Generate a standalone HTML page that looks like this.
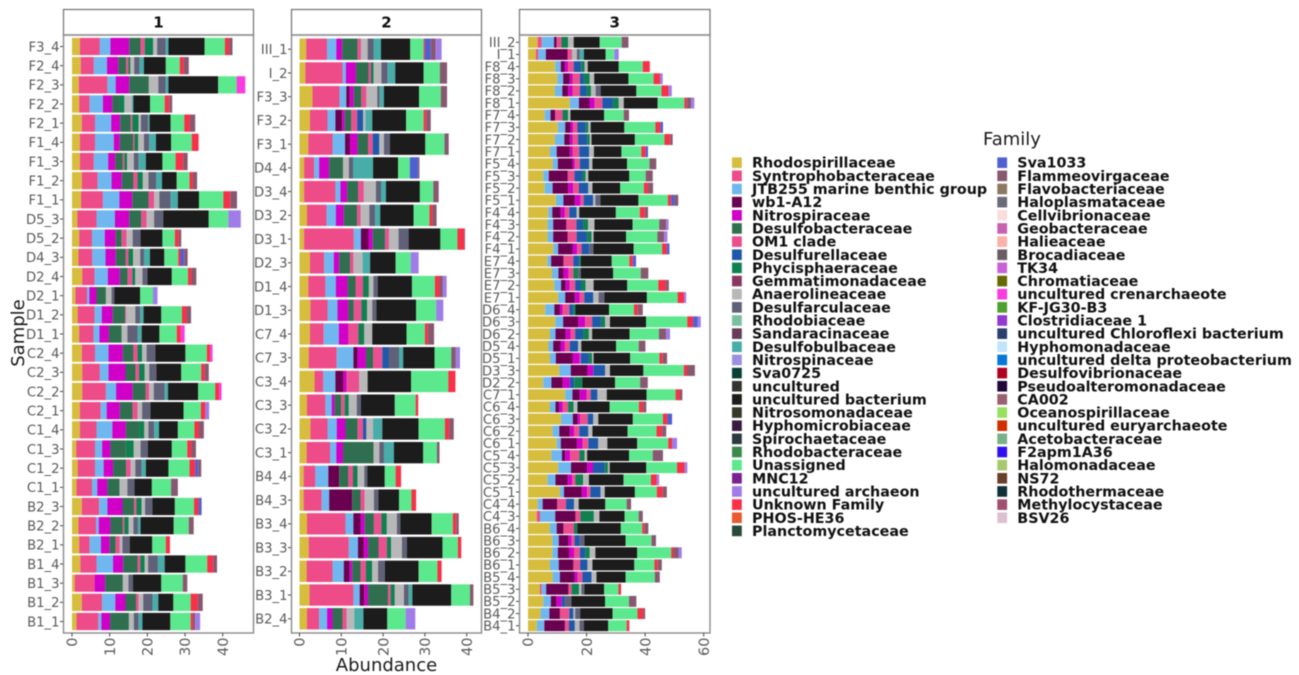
<!DOCTYPE html>
<html lang="en">
<head>
<meta charset="utf-8">
<title>Family abundance by sample</title>
<style>
html,body{margin:0;padding:0;background:#fff;width:1299px;height:675px;overflow:hidden}
svg{display:block;filter:blur(.65px)}
text{font-family:"DejaVu Sans","Liberation Sans",sans-serif}
</style>
</head>
<body>
<svg id="chart" xmlns="http://www.w3.org/2000/svg" width="1299" height="675" viewBox="0 0 1299 675">
  <rect x="0" y="0" width="1299" height="675" fill="#fff"/>
  <g id="panels"></g>
  <text x="386.5" y="671" font-size="18" text-anchor="middle" fill="#1a1a1a">Abundance</text>
  <text transform="translate(24,333) rotate(-90)" font-size="18" text-anchor="middle" fill="#1a1a1a">Sample</text>
  <text x="983" y="145" font-size="18" fill="#1a1a1a">Family</text>
  <g id="legend"></g>
</svg>
<script>
const legendFamilies = ["Rhodospirillaceae","Syntrophobacteraceae","JTB255 marine benthic group","wb1-A12","Nitrospiraceae","Desulfobacteraceae","OM1 clade","Desulfurellaceae","Phycisphaeraceae","Gemmatimonadaceae","Anaerolineaceae","Desulfarculaceae","Rhodobiaceae","Sandaracinaceae","Desulfobulbaceae","Nitrospinaceae","Sva0725","uncultured","uncultured bacterium","Nitrosomonadaceae","Hyphomicrobiaceae","Spirochaetaceae","Rhodobacteraceae","Unassigned","MNC12","uncultured archaeon","Unknown Family","PHOS-HE36","Planctomycetaceae","Sva1033","Flammeovirgaceae","Flavobacteriaceae","Haloplasmataceae","Cellvibrionaceae","Geobacteraceae","Halieaceae","Brocadiaceae","TK34","Chromatiaceae","uncultured crenarchaeote","KF-JG30-B3","Clostridiaceae 1","uncultured Chloroflexi bacterium","Hyphomonadaceae","uncultured delta proteobacterium","Desulfovibrionaceae","Pseudoalteromonadaceae","CA002","Oceanospirillaceae","uncultured euryarchaeote","Acetobacteraceae","F2apm1A36","Halomonadaceae","NS72","Rhodothermaceae","Methylocystaceae","BSV26"];
const legendColors = ["#d6bd3e","#ee4c88","#6fb7ee","#6a0050","#d000c8","#2f6f4f","#ea4f90","#1f58a8","#118050","#8a3860","#b8b8b8","#606078","#78c0a0","#663c58","#48aca8","#9c90e0","#0a4038","#33332f","#1c1c1c","#363a28","#3a1a40","#2a3a40","#3a8a4a","#5ce88c","#7a2090","#a07ce8","#f83048","#e85a30","#284a38","#4f60d0","#885870","#8c7860","#6a6a78","#fadcdc","#c860b0","#fcb0a8","#6c5c64","#c860d8","#686800","#f83ce0","#50a030","#9038d0","#2c4070","#c0e4fc","#0878d8","#b00020","#200838","#986070","#98e060","#d03000","#78b088","#3010f0","#a8c870","#684028","#103038","#a05070","#dcc0d0"];
const stackFamilies = ["Rhodospirillaceae","Syntrophobacteraceae","JTB255 marine benthic group","wb1-A12","Nitrospiraceae","Desulfobacteraceae","OM1 clade","Desulfurellaceae","Phycisphaeraceae","Anaerolineaceae","Desulfarculaceae","Desulfobulbaceae","uncultured bacterium","Unassigned","Unknown Family","Sva1033","Flammeovirgaceae","uncultured archaeon","uncultured crenarchaeote"];

const facetNames = ["1","2","3"];
const panel1Ticks = [0,10,20,30,40];
const panel2Ticks = [0,10,20,30,40];
const panel3Ticks = [0,20,40,60];

const panel1Samples = ["F3_4","F2_4","F2_3","F2_2","F2_1","F1_4","F1_3","F1_2","F1_1","D5_3","D5_2","D4_3","D2_4","D2_1","D1_2","D1_1","C2_4","C2_3","C2_2","C2_1","C1_4","C1_3","C1_2","C1_1","B2_3","B2_2","B2_1","B1_4","B1_3","B1_2","B1_1"];
const panel1Values = [
[2.1,5.3,2.8,0,5,3,1.1,0,2.2,1.1,2.3,.7,9.6,5.4,1.1,0,.9],
[2.3,3.5,3.5,0,3,2.1,.6,0,.5,1,1.4,1.2,5.8,3.7,1.1,0,1.3],
[1.8,7.6,2.2,0,3.6,5.2,0,0,0,2.5,2,.7,13.2,4.9,0,0,0,0,2.3],
[1.9,2.8,3.5,0,2.5,1.9,0,0,1.3,2,0,.4,4.4,3.9,1.2,0,.8],
[2.6,3.5,4.3,0,2.4,2.8,.4,0,1.7,.6,1.9,.4,5.6,3.6,1.5,0,1.4],
[2.1,4,5,0,1.6,3.5,.4,0,1,1.5,1.4,1.8,4,5.5,1.8],
[2.1,3.7,3.8,0,1.9,2,.4,0,.7,1.8,1.3,1.9,4.4,3.5,2,0,1.2],
[2.6,4.2,3.7,0,2.7,3.1,1.1,0,1.4,1.5,2,1.6,3.9,3.4,.9,0,1.1],
[2.4,5.8,4.4,0,3.4,4.3,1.5,0,0,1.4,3,1.9,5.6,6.5,1.8,0,1.8],
[1.4,5.1,4.9,0,3.8,3.2,1.4,0,0,2,2.4,0,12.1,5.2,0,0,0,3.3],
[1.9,3.4,3.4,0,2.9,1.6,1.3,0,0,1.6,2.1,0,5.8,3.3,1,0,.7],
[1.7,3.7,3.5,0,2.7,2.7,.7,0,1.2,1.9,1,1.6,3.8,3.7,.6,1,.9],
[2.7,3.3,3.5,0,3.2,2.1,1.2,0,.8,1.9,1.3,0,6.5,4.3,.9,0,1.3],
[.9,3.1,.6,0,1.9,2.5,0,0,0,1.5,.7,0,6.9,3.4,0,0,0,1.2],
[1.5,4.5,1.9,0,2.9,3.3,.3,0,0,2.4,1.3,.9,4.7,5.5,1.2,0,1.2],
[1.9,3.8,1.6,0,2.5,3.4,0,0,0,1.5,2.7,1.1,4.7,4.6,1.1,0,0,0,1],
[2.6,3.5,3.6,0,3.8,2.8,1.1,0,1.2,1.2,2.3,0,8,5.7,.9,0,0,0,.6],
[2.7,4.7,2.3,0,4.5,2.7,.9,0,1.5,1.2,1.9,0,6.6,5.3,.9,0,1.1],
[2.7,6.3,2.7,0,4.4,3.5,.9,0,0,1.2,2.9,.9,8,4.5,1.1,0,0,0,.6],
[2.1,5.5,1.6,0,3.5,3.4,1.3,0,0,1.2,2.2,0,8.8,4.6,1.2,0,0,1],
[2.1,4.4,4.2,0,3.6,3.5,0,0,1.4,1.1,1.5,1.3,5,4.4,1.2,0,1.3],
[1.1,5,1.9,0,2.2,4.1,0,0,2.1,1.8,1.9,0,6.4,4.1,1.1,0,1.2],
[1.5,4.6,2.3,0,2.5,3.5,1.2,0,0,1.2,1.7,1.1,6,5.6,1.5,.8,.8],
[1.2,4.1,1.4,0,2.7,3.2,0,0,0,2.1,1.9,0,4.6,5.1,0,0,1.8],
[2.6,4.6,2.2,0,4,3.1,.6,0,1.4,.9,1.9,0,6,5.1,1.2,.8],
[1.7,4.7,.7,0,3.1,3.3,.4,0,1.1,1.3,1.2,.7,8.8,4,0,0,1.3],
[1.9,2.8,3,0,2.3,1.6,1.1,0,0,.7,1.9,0,6,3.6,1.1],
[2.2,4.3,4.4,0,2.7,3.8,.7,0,1.2,.9,2.6,1.8,5.5,5.8,1.6,0,1],
[.7,5.3,0,0,2.8,4.7,0,0,0,1.5,1.2,0,7.5,5.7,0,0,1.2],
[2.6,5.4,3.5,0,2.7,2.8,.7,0,0,1.2,2.5,1.5,4,4.6,1.9,0,1.3],
[1.2,5.8,.8,0,2.3,5,0,0,0,1.3,1.3,1,7.4,5.4,.6,0,.6,1.3]
];

const panel2Samples = ["III_1","I_2","F3_3","F3_2","F3_1","D4_4","D3_4","D3_2","D3_1","D2_3","D1_4","D1_3","C7_4","C7_3","C3_4","C3_3","C3_2","C3_1","B4_4","B4_3","B3_4","B3_3","B3_2","B3_1","B2_4"];
const panel2Values = [
[1.6,5,2.2,0,1.4,3.7,.8,0,0,1.6,1.4,1.8,7,3.2,.3,1.4,1.2,1.4],
[1.4,8.9,.8,0,2.4,3,.6,0,.6,1.9,1.5,1.8,6.8,3.9,0,0,1.7],
[3.1,6.5,1.6,.8,1,1.8,1.2,0,0,2.6,.6,1,8.4,5.2,0,0,1.5],
[2.5,4.2,1.9,1.6,.6,1.6,1.4,1.4,0,.6,0,1.6,8.1,4.2,.6,0,1.1],
[2.1,5.8,3,1.2,1.8,2.5,1.1,1.6,0,1.1,1.4,0,8.5,4.6,0,0,1],
[1.1,2.4,1.2,0,2.4,3.3,0,0,0,1.4,1,4.8,6,2.8,0,2,.3],
[1.1,7.5,1.2,0,1.6,2.6,1.4,0,0,2.9,1.2,1.2,8.1,3.2,0,0,1.3],
[1.8,4.7,2.2,0,1.9,3.2,.8,0,0,2.1,1.4,1.2,8,3.8,.7,0,1],
[1.1,11.9,1.7,1.8,1,3,.9,0,0,2.3,2.4,0,7.6,4.1,1.6,0,.2],
[2.5,3.4,2.3,0,1.3,2.6,.8,0,0,2.2,0,1.8,6.1,3.6,0,0,0,1.9],
[2.1,4.1,2.5,0,2.8,1.9,1.8,0,1.4,1.1,1,0,8.2,5.5,1.1,0,.8,.9],
[2.6,4.1,2.4,0,2.6,1.3,1.8,0,1.4,1.2,1,0,9.5,4.8,0,0,0,1.7],
[2.5,3.3,3.6,0,2.3,0,2.4,0,1.4,1.9,0,0,8.2,4.4,.7,0,1.5],
[2.2,6.7,4,1,2,1.7,2.2,1.6,0,0,2.4,1,7.5,4,0,0,1.1,1],
[3.6,2.1,2.9,1.9,.8,0,3,0,0,2,0,0,10.4,8.9,1.7],
[1.8,4.4,1.5,0,.7,1.6,.8,0,1,1.9,1,0,8.1,5,.6],
[2.6,4.1,2.2,0,2.1,2.9,1.3,.8,0,1.6,0,2.2,8.7,6.3,1,0,1.1],
[1.7,5.6,1.5,0,1.6,7.3,0,0,0,1.4,1.1,2.4,7,3.3,0,0,.6],
[1,2.8,3.1,2.6,0,2.2,1.1,0,1.1,1.6,.7,0,4.2,2.6,1.3],
[1,4.3,1.8,5.5,0,2,1,0,0,2.2,1.1,0,4.9,3,1.1],
[1.8,9.2,1.9,1.7,1,2.2,1.8,0,1.3,2.4,.8,0,7.5,5.1,.8,0,.6],
[2.2,9.6,2.2,1.4,1,2.5,2,0,1,2.6,1.2,0,8.5,3.7,.8],
[1.7,6.2,2.7,1.4,.6,2,1.3,0,1.5,1.4,1.6,0,8.1,4.5,1],
[2.4,10.5,1.5,1.1,.9,4.8,.6,0,1,2.2,1.1,.9,9.3,4.5,0,0,.8],
[1.8,2.9,1.9,0,1.3,2.4,1,0,0,1.8,0,2.2,5.7,4.4,0,0,0,2.3]
];

const panel3Samples = ["III_2","I_1","F8_4","F8_3","F8_2","F8_1","F7_4","F7_3","F7_2","F7_1","F5_4","F5_3","F5_2","F5_1","F4_4","F4_3","F4_2","F4_1","E7_4","E7_3","E7_2","E7_1","D6_4","D6_3","D6_2","D5_4","D5_1","D3_3","D2_2","C7_1","C6_4","C6_3","C6_2","C6_1","C5_4","C5_3","C5_2","C5_1","C4_4","C4_3","B6_4","B6_3","B6_2","B6_1","B5_4","B5_3","B5_2","B4_2","B4_1"];
const panel3Values = [
[3.3,1.4,4.2,.9,0,0,1.6,0,2.3,1.9,0,0,8.9,7.5,0,0,2.3],
[2.7,.8,2.6,7.4,0,0,1.6,0,0,1.6,1,1.4,7.4,3,0,0,0,1.5],
[9.3,0,1.9,1.4,1.1,0,1.9,2.6,1.1,1.1,0,0,10.6,8.2,2.4],
[10,0,2,2.3,.9,0,2.5,1.4,2,1.5,0,0,11.7,8.6,2.2,0,0,.9],
[9.2,0,2.5,2,1.5,0,2.5,2.3,1.5,1.6,1.7,0,12.2,8.6,2.4,0,0,1.1],
[14.3,0,3.1,3.6,1.8,0,2.6,3.6,2,1.7,0,0,11.6,9.1,.8,0,1.5,1.1],
[5.7,0,2,1.6,0,0,2.5,0,1.9,.8,0,0,11.5,6.7,0,0,1.8],
[10.2,0,2.5,1.8,.9,0,1.5,2.8,.9,.8,0,0,11.5,10.6,1.7,.9],
[9.2,0,3.2,1.9,.9,0,1.9,3.1,.9,.6,0,0,14.8,10.1,2,0,.8],
[7.5,0,2.3,4.5,.9,0,2.3,3.4,0,1.6,0,0,9.4,6.8,1.5,.8],
[8.4,0,1.8,5,.8,0,1.7,3.2,0,1.1,0,0,11.8,7.7,0,0,2.3],
[5.2,0,1.9,6.5,0,0,2.3,2.7,1.1,.9,0,0,14,5.6,0,0,2.4],
[5.7,0,2.7,5.3,1.7,0,2,3.2,0,1.4,0,0,9.5,8.1,1.4,0,1.7],
[9.5,0,2.6,3.9,1.9,0,1.1,3.2,0,.8,1.7,0,13,10.1,1.1,1.1,1.3],
[6.9,0,1.4,2.9,1.4,0,1.5,2.5,0,.9,0,0,12.5,8.2,1.7,0,1.1],
[6.7,0,1.9,4.5,0,0,3.4,2.3,1.7,2.2,0,0,13,9.1,0,0,2.4,.8],
[6.7,0,1.9,4.9,0,0,3.1,3.6,1.5,.7,0,0,11.1,10.7,0,0,2.3,1.1],
[8.6,0,1.7,4.9,1.6,0,1.5,2.6,0,0,1.4,0,13.8,9.7,1.6,.9],
[6.6,0,1.3,4.2,0,0,3.4,2,.6,0,0,0,10.5,6,1.2,1.1],
[8.2,0,2.2,1.7,1.7,0,1.7,0,1.7,0,.9,0,11,9.4,0,0,2.6],
[9,0,2.3,1.6,1.3,0,1.9,2,1.6,2.7,0,0,11.5,10.6,2.5,0,1.1],
[10.3,0,2.4,3.3,1.7,0,1.5,3.1,0,1.8,2,0,14.5,10.5,2.2,0,0,.7],
[5.9,0,3.1,1.9,.9,0,2.3,1.4,.7,0,0,0,11.5,8.5,1.3,0,1.7],
[9.3,0,2.7,5.2,2.3,0,2.4,3,1.4,1.7,0,0,12.3,14.1,2,1.5,0,1.1],
[7.5,0,1.9,3.5,1.6,0,1.6,2.7,2,1.1,0,0,12.8,10,0,0,2.5,1.3],
[7,0,1.6,2.5,1.5,0,1.7,2.8,0,1.1,0,0,11.9,7.7,0,0,2.3],
[7.5,0,2,5.7,2.5,0,.3,2.8,1.1,.5,0,0,12.5,10,1.1,0,1.5],
[10.7,0,3.9,5.7,2,0,0,4,0,1.7,0,0,11.4,13.8,1.1,0,2.7],
[5.2,0,2.8,3.8,2.5,0,0,1.5,2.8,0,0,0,11.1,8.6,0,0,2.6],
[12.7,0,2.5,2.5,2.3,0,1.4,2.3,0,3.2,0,0,13.6,9.9,1.5,0,.8],
[7.5,0,1.9,1.3,1.1,0,1.9,0,1.9,1.3,0,0,11,10,1.4,0,1.1],
[11.3,0,4,1.7,.8,0,2.6,1.9,0,1.7,0,0,11.8,10.3,1.5,1.6],
[8.4,0,2.3,3.6,1.4,0,1.8,3.1,0,1.4,0,0,12,9.9,1.9,0,1.4],
[9.8,0,1.4,5.5,2,0,1.9,3.4,0,3.1,0,0,10.2,10.6,1.3,0,0,1.7],
[8,0,3.6,1.1,1.7,0,3.2,0,1.7,.9,0,0,14.3,8.1,0,0,3.5],
[10.3,0,4.4,5.5,2,0,0,4,1.1,.6,0,0,12.5,10.5,2.6,0,0,.9],
[6.7,0,2.7,4.1,1.6,0,1.1,0,2.6,2,0,0,11.8,9.4,2,0,0,.8],
[10.9,0,1.4,6.1,1.8,0,1.1,3.5,0,1.4,0,0,10.3,7.5,2,0,1.4],
[3.3,0,1.7,5,0,0,3,2.7,0,1.6,0,0,9.1,7.3,0,0,1.5],
[3,1.1,5.2,6.9,0,0,1.7,0,4.6,1.9,0,0,8.6,4.8,0,0,1.4],
[7.5,0,2.3,2.3,0,0,3.6,0,1.1,0,0,0,14.9,7.3,.7,0,1.4],
[8.3,0,2.2,3.3,1.1,0,1,1.8,0,0,1.6,0,14,8.9,0,0,1.5],
[8.3,0,1.9,3.8,1.7,0,2,1.8,1.6,1.9,0,0,14.3,11.6,.8,0,1.7,1.1],
[7.5,0,3,5,0,0,2.3,2.5,0,1.7,0,0,14.3,6.9,1.1,0,1.4],
[8.4,0,2.5,5,1.1,0,1.6,3.1,0,1.7,0,0,9.9,10,0,0,1.7],
[4.1,.6,1.5,7.6,0,0,1.1,0,2.5,.8,1.1,0,6.7,4.9,.9],
[5.2,0,2.6,1.9,1.8,0,0,1.1,0,0,2.2,0,11.5,8.2,0,0,2.5],
[4.3,0,3,3.6,0,0,3.2,1.4,0,.6,1.7,0,11.1,8.5,1.9,0,.7],
[3,0,2.6,7,0,0,1.4,2,0,1.6,1.5,0,8.3,6.3,.9]
];

const NS = 'http://www.w3.org/2000/svg';
function svgEl(tag, attrs, parent) {
  const el = document.createElementNS(NS, tag);
  for (const k in attrs) el.setAttribute(k, attrs[k]);
  parent.appendChild(el);
  return el;
}
function linearAxis(domainMax, pxStart, pxPerDomain) {
  return v => pxStart + v * pxPerDomain / domainMax;
}
function bandAxis(count, top, bottom) {
  const step = (bottom - top) / (count - 1 + 1.2);
  return { pos: i => top + (0.6 + i) * step, step: step };
}

const panelLayout = [
  { left: 63.5, right: 253.5, x: linearAxis(40, 72, 150.7) },
  { left: 291.5, right: 481.5, x: linearAxis(40, 299.5, 167.2) },
  { left: 519.5, right: 710, x: linearAxis(60, 528, 175.7) }
];
const panelSamples = [panel1Samples, panel2Samples, panel3Samples];
const panelValues = [panel1Values, panel2Values, panel3Values];
const panelTicks = [panel1Ticks, panel2Ticks, panel3Ticks];
const panelTop = 35, panelBottom = 633, stripTop = 9.5;

const root = document.getElementById('panels');
facetNames.forEach((name, p) => {
  const L = panelLayout[p];
  const group = svgEl('g', {}, root);
  
  

  const strip = svgEl('rect', { x: L.left, y: stripTop, width: L.right - L.left, height: panelTop - stripTop, fill: '#fff', stroke: '#7a7a7a', 'stroke-width': 1.3 }, group);
  
  

  const stripLabel = svgEl('text', { x: (L.left + L.right) / 2, y: 27.5, 'font-size': 15, 'font-weight': 'bold', 'text-anchor': 'middle', fill: '#111' }, group);
  stripLabel.textContent = name;
  
  

  const samples = panelSamples[p];
  const values = panelValues[p];
  const band = bandAxis(samples.length, panelTop, panelBottom);
  const barH = band.step * 0.9;

  samples.forEach((sample, i) => {
    const cy = band.pos(i);
    const bar = svgEl('g', {}, group);
    
    
    let cum = 0;
    values[i].forEach((v, s) => {
      if (!v) return;
      const fam = stackFamilies[s];
      const x0 = L.x(cum), x1 = L.x(cum + v);
      const seg = svgEl('rect', { x: x0, y: cy - barH / 2, width: x1 - x0, height: barH, fill: legendColors[legendFamilies.indexOf(fam)] }, bar);
      
      
      cum += v;
    });

    const tick = svgEl('line', { x1: L.left - 3.5, x2: L.left, y1: cy, y2: cy, stroke: '#444', 'stroke-width': 1 }, group);
    
    

    const label = svgEl('text', { x: L.left - 4, y: cy + 4.8, 'font-size': 13.2, 'text-anchor': 'end', fill: '#5a5a5a' }, group);
    label.textContent = sample;
    
    
  });

  const frame = svgEl('rect', { x: L.left, y: panelTop, width: L.right - L.left, height: panelBottom - panelTop, fill: 'none', stroke: '#8a8a8a', 'stroke-width': 1.4 }, group);
  
  

  panelTicks[p].forEach(t => {
    const tx = L.x(t);
    const tick = svgEl('line', { x1: tx, x2: tx, y1: panelBottom, y2: panelBottom + 3.5, stroke: '#444', 'stroke-width': 1 }, group);
    
    

    const label = svgEl('text', { transform: 'translate(' + (tx + 5.2) + ',' + (panelBottom + 4.5) + ') rotate(-90)', 'font-size': 14.5, 'text-anchor': 'end', fill: '#5a5a5a' }, group);
    label.textContent = t;
    
    
  });
});

const legendRoot = document.getElementById('legend');
const legendRowsFirstColumn = 29;
legendFamilies.forEach((fam, i) => {
  const second = i >= legendRowsFirstColumn;
  const row = second ? i - legendRowsFirstColumn : i;
  const swatchX = second ? 997.3 : 732;
  const textX = second ? 1017.3 : 752;
  const cy = 162.7 + row * 13.15;
  const entry = svgEl('g', {}, legendRoot);
  
  

  const swatch = svgEl('rect', { x: swatchX, y: cy - 5.3, width: 9.8, height: 10.6, fill: legendColors[i] }, entry);
  
  

  const label = svgEl('text', { x: textX, y: cy + 5, 'font-size': 14.3, 'font-weight': 'bold', fill: '#111' }, entry);
  label.textContent = fam;
  
  
});
</script>
</body>
</html>
